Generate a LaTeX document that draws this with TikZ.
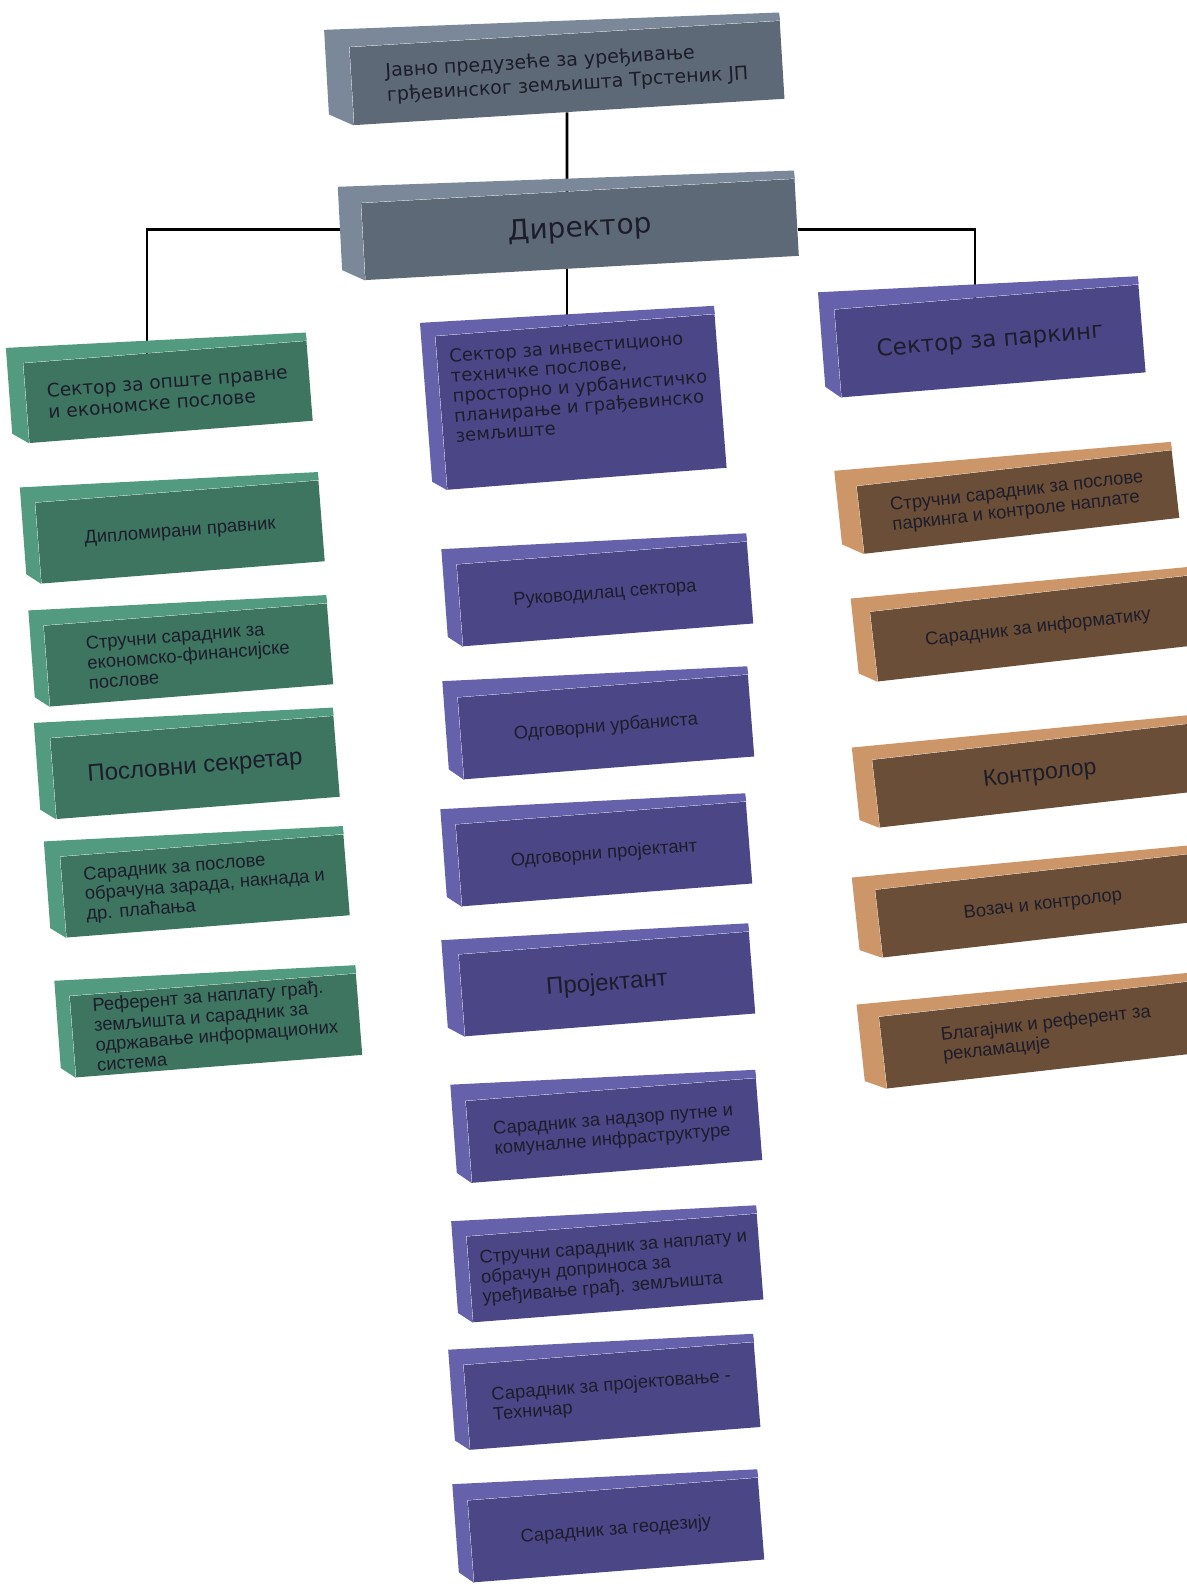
\documentclass[tikz,border=0pt]{standalone}
\usepackage{fontspec}
\setmainfont{Liberation Sans}
\newfontfamily\headfont{DejaVu Sans}
\usetikzlibrary{calc, backgrounds}

\definecolor{ink}{HTML}{1C1C2A}
\definecolor{frontgray}{HTML}{5D6977}
\definecolor{sidegray}{HTML}{7A8899}
\definecolor{frontgreen}{HTML}{3E7561}
\definecolor{sidegreen}{HTML}{529B80}
\definecolor{frontpurple}{HTML}{4B4787}
\definecolor{sidepurple}{HTML}{6561AB}
\definecolor{frontbrown}{HTML}{6B4E37}
\definecolor{sidebrown}{HTML}{CD9669}

\pgfdeclarelayer{wires}
\pgfsetlayers{wires,background,main}

\tikzset{
  box/.style={rectangle, inner sep=2pt, align=left, text=ink, font=\fontsize{9.2}{10}\selectfont},
  graybox/.style={box, fill=frontgray},
  greenbox/.style={box, fill=frontgreen, rotate=4.5, minimum width=142pt, minimum height=40.5pt},
  purplebox/.style={box, fill=frontpurple, rotate=4.5, minimum width=145.5pt, minimum height=41pt},
  brownbox/.style={box, fill=frontbrown, rotate=6.5, minimum width=165pt, minimum height=34pt},
  head/.style={font=\headfont\fontsize{9.3}{10.5}\selectfont},
  wire/.style={draw=black, line width=1.3pt}
}

\begin{document}
\begin{tikzpicture}[x=0.5pt, y=-0.5pt]
\useasboundingbox (0,0) rectangle (1187,1585);

% top of the chart
\node[graybox, rotate=3.5, minimum width=215.5pt, minimum height=39pt, font=\headfont\fontsize{9.5}{12}\selectfont] (top) at (567,73) {Јавно предузеће за уређивање\\грђевинског земљишта Трстеник ЈП};
\node[graybox, rotate=3.2, minimum width=217pt, minimum height=38.5pt, font=\headfont\fontsize{14}{16}\selectfont] (dir) at (580,229.5) {Директор};

% sectors
\node[greenbox, head, minimum height=40pt] (sec1) at (168,392) {Сектор за опште правне\\и економске послове};
\node[purplebox, head, minimum width=140pt, minimum height=77pt, font=\headfont\fontsize{9}{10}\selectfont] (sec2) at (581,402) {Сектор за инвестиционо\\техничке послове,\\просторно и урбанистичко\\планирање и грађевинско\\земљиште\\[6pt]\mbox{}};
\node[purplebox, rotate=0.2, minimum width=152.5pt, minimum height=44pt, font=\headfont\fontsize{11.5}{13}\selectfont] (park) at (990,341) {Сектор за паркинг};

% left column
\node[greenbox] (g1) at (180,532) {Дипломирани правник};
\node[greenbox] (g2) at (188.5,655) {Стручни сарадник за\\економско-финансијске\\послове};
\node[greenbox, font=\fontsize{12}{14}\selectfont] (g3) at (195,767.5) {Пословни секретар};
\node[greenbox] (g4) at (205,886) {Сарадник за послове\\обрачуна зарада, накнада и\\др. плаћања};
\node[greenbox, minimum width=143.5pt] (g5) at (216,1025.5) {Референт за наплату грађ.\\земљишта и сарадник за\\одржавање информационих\\система};

% middle column
\node[purplebox] (p1) at (605,594) {Руководилац сектора};
\node[purplebox] (p2) at (606,727) {Одговорни урбаниста};
\node[purplebox] (p3) at (604,854) {Одговорни пројектант};
\node[purplebox, font=\fontsize{12}{14}\selectfont] (p4) at (607,984) {Пројектант};
\node[purplebox] (p5) at (614,1130.5) {Сарадник за надзор путне и\\комуналне инфраструктуре};
\node[purplebox, minimum height=43pt] (p6) at (615,1268) {Стручни сарадник за наплату и\\обрачун доприноса за\\уређивање грађ. земљишта};
\node[purplebox, minimum height=42.5pt] (p7) at (612,1396) {Сарадник за пројектовање -\\Техничар};
\node[purplebox] (p8) at (616,1530) {Сарадник за геодезију};

% right column
\node[brownbox, minimum width=158.5pt] (b1) at (1018,502) {Стручни сарадник за послове\\паркинга и контроле наплате};
\node[brownbox, minimum height=35pt] (b2) at (1038,628) {Сарадник за информатику};
\node[brownbox, font=\fontsize{11.5}{13}\selectfont] (b3) at (1040,775) {Контролор};
\node[brownbox] (b4) at (1043,905) {Возач и контролор};
\node[brownbox, minimum height=36pt] (b5) at (1047,1034) {Благајник и референт за\\рекламације};

% 3d sides
\begin{scope}[on background layer]
\foreach \n/\c/\dx/\dy in {top/gray/25/17, dir/gray/23/16, sec1/green/17/15, sec2/purple/15/13, park/purple/16/17,
    g1/green/15/15, g2/green/15/15, g3/green/16/15, g4/green/16/15, g5/green/15/15,
    p1/purple/15/15, p2/purple/15/16, p3/purple/15/15, p4/purple/17/14, p5/purple/15/16, p6/purple/15/15, p7/purple/15/15, p8/purple/15/16,
    b1/brown/22/15, b2/brown/19/13, b3/brown/20/12, b4/brown/23/12, b5/brown/22/12}
  \fill[fill=side\c] (\n.south west) -- ++(-\dx,-0.65*\dy) -- ($(\n.north west)+(-\dx,-\dy)$)
    -- ($(\n.north east)+(-1,-8)$) -- (\n.north east) -- (\n.north west) -- cycle;
\end{scope}

% connectors
\begin{pgfonlayer}{wires}
\draw[wire] (top) -- (top |- dir);
\draw[wire] ([xshift=-6.5pt]dir.center) -- ([xshift=-6.5pt]dir.center |- sec2);
\draw[wire] (dir) -| ([xshift=-10.5pt]sec1.center);
\draw[wire] (dir) -| ([xshift=-7.5pt]park.center);
\end{pgfonlayer}
\end{tikzpicture}
\end{document}
